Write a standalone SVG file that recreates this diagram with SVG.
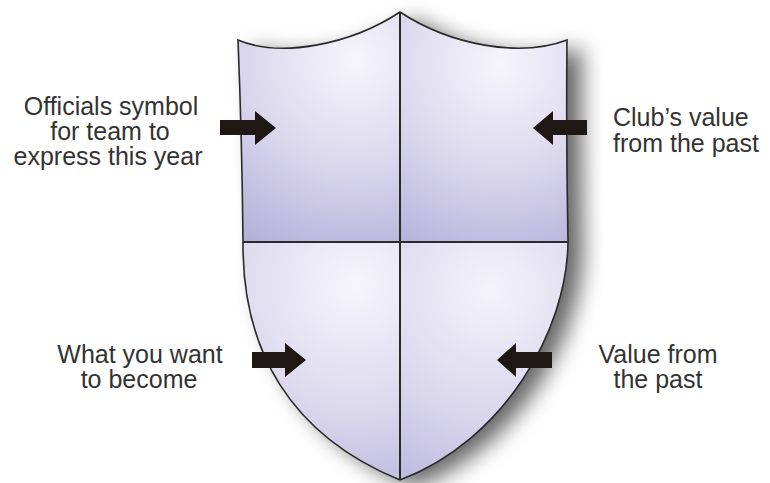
<svg xmlns="http://www.w3.org/2000/svg" width="770" height="483" viewBox="0 0 770 483">
<defs>
<style>
.lbl{font-family:"Liberation Sans",Arial,sans-serif;font-size:25px;fill:#333333}
.mid{text-anchor:middle}
.arrow{fill:#1f1714}
.edge{fill:none;stroke:#2a2a2a;stroke-width:1.6}
.div{stroke:#2a2a2a;stroke-width:2;fill:none}
</style>
<path id="shieldPath" d="M238,40 C280,58 350,45 400,12 C450,45 520,58 567,40 Q566,140 568,242 C567,330 505,440 400,480 C290,435 242,350 243,242 Q242,140 238,40 Z"/>
<clipPath id="clip"><use href="#shieldPath"/></clipPath>
<filter id="blur" x="-20%" y="-20%" width="140%" height="140%"><feGaussianBlur stdDeviation="11"/></filter>
<radialGradient id="gTL" gradientUnits="userSpaceOnUse" cx="355" cy="60" r="205">
<stop offset="0" stop-color="#f6f5fb"/><stop offset="0.5" stop-color="#dcd9ee"/><stop offset="1" stop-color="#b6b1da"/></radialGradient>
<radialGradient id="gTR" gradientUnits="userSpaceOnUse" cx="500" cy="65" r="205">
<stop offset="0" stop-color="#f6f5fb"/><stop offset="0.5" stop-color="#dcd9ee"/><stop offset="1" stop-color="#b6b1da"/></radialGradient>
<radialGradient id="gBL" gradientUnits="userSpaceOnUse" cx="355" cy="285" r="225">
<stop offset="0" stop-color="#f6f5fb"/><stop offset="0.55" stop-color="#dcd9ee"/><stop offset="1" stop-color="#b9b4dc"/></radialGradient>
<radialGradient id="gBR" gradientUnits="userSpaceOnUse" cx="490" cy="290" r="225">
<stop offset="0" stop-color="#f4f3fa"/><stop offset="0.55" stop-color="#dad7ed"/><stop offset="1" stop-color="#b9b4dc"/></radialGradient>
</defs>
<rect width="770" height="483" fill="#ffffff"/>
<g id="shadow">
<use href="#shieldPath" fill="#000" opacity="0.6" transform="translate(15,7)" filter="url(#blur)"/>
</g>
<g id="shield">
<g clip-path="url(#clip)">
<rect id="q-top-left" x="230" y="0" width="170" height="242" fill="url(#gTL)"/>
<rect id="q-top-right" x="400" y="0" width="175" height="242" fill="url(#gTR)"/>
<rect id="q-bottom-left" x="230" y="242" width="170" height="245" fill="url(#gBL)"/>
<rect id="q-bottom-right" x="400" y="242" width="175" height="245" fill="url(#gBR)"/>
</g>
<use href="#shieldPath" class="edge"/>
<line class="div" x1="400" y1="12" x2="400" y2="480"/>
<line class="div" x1="243" y1="242" x2="568" y2="242"/>
</g>
<g id="connectors">
<polygon class="arrow" points="220,120 255,120 255,111 276,128 255,145 255,135 220,135"/>
<polygon class="arrow" points="587,120 553,120 553,111 533,128 553,145 553,135 587,135"/>
<polygon class="arrow" points="252,352 285,352 285,343 306,360 285,377 285,368 252,368"/>
<polygon class="arrow" points="552,352 516,352 516,343 497,360 516,377 516,368 552,368"/>
</g>
<g id="label-officials">
<text class="lbl mid" x="111" y="115">Officials symbol</text>
<text class="lbl mid" x="110" y="140">for team to</text>
<text class="lbl mid" x="108" y="165">express this year</text>
</g>
<g id="label-club">
<text class="lbl" x="613" y="126">Club’s value</text>
<text class="lbl" x="613" y="152">from the past</text>
</g>
<g id="label-become">
<text class="lbl mid" x="140" y="363">What you want</text>
<text class="lbl mid" x="139" y="388">to become</text>
</g>
<g id="label-value">
<text class="lbl mid" x="658" y="363">Value from</text>
<text class="lbl mid" x="658" y="388">the past</text>
</g>
</svg>
